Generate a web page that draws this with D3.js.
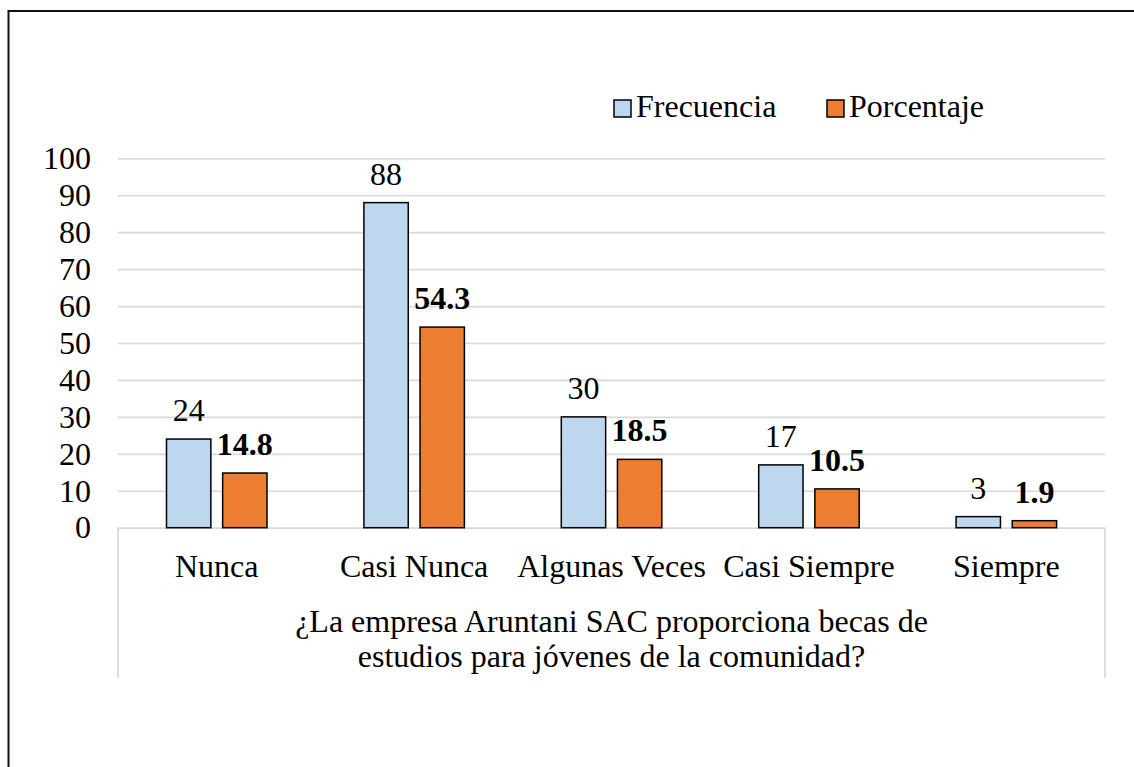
<html lang="es">
<head>
    <meta charset="UTF-8">
    <title>Becas de estudios</title>
    <script src="https://cdn.jsdelivr.net/npm/d3@7"></script>
    <style>
        body { margin: 0; background: #fff; }
        text { font-family: "Liberation Serif", "Times New Roman", serif; fill: #000; }
    </style>
</head>
<body>
<script>
    // data
    let categories = ["Nunca", "Casi Nunca", "Algunas Veces", "Casi Siempre", "Siempre"]
    let series = ["Frecuencia", "Porcentaje"]
    let frecuencia = [24, 88, 30, 17, 3]
    let porcentaje = [14.8, 54.3, 18.5, 10.5, 1.9]
    let yTicks = [0, 10, 20, 30, 40, 50, 60, 70, 80, 90, 100]
    let titleLines = ["¿La empresa Aruntani SAC proporciona becas de",
                      "estudios para jóvenes de la comunidad?"]

    let colors = {"Frecuencia": "#bdd7ee", "Porcentaje": "#ed7d31"}
    let values = {"Frecuencia": frecuencia, "Porcentaje": porcentaje}

    let W = 1134, H = 767
    let plotL = 118, plotR = 1105, plotT = 158.3, plotB = 527.7
    let fs = 32

    let svg = d3.select('body').append('svg')
        .attr('width', W)
        .attr('height', H)

    // outer frame (only left and top visible)
    svg.append('path')
        .attr('d', `M8.5,${H} L8.5,11 L${W},11`)
        .attr('fill', 'none')
        .attr('stroke', '#111')
        .attr('stroke-width', 2)

    let y = d3.scaleLinear().domain([0, 100]).range([plotB, plotT])
    let x0 = d3.scaleBand().domain(categories).range([plotL, plotR])
    let x1 = d3.scaleBand().domain(series).range([48.5, 149]).paddingInner(0.21)

    // y axis with gridlines
    let yAxis = svg.append('g')
        .attr('transform', `translate(${plotL},0)`)
        .call(d3.axisLeft(y).tickValues(yTicks).tickSize(-(plotR - plotL)).tickPadding(27))
    yAxis.select('.domain').remove()
    yAxis.selectAll('line').attr('stroke', '#d9d9d9').attr('stroke-width', 1.7)
    yAxis.selectAll('text').style('font-size', fs + 'px')
        .attr('font-family', '"Liberation Serif", serif')

    // category box
    svg.append('path')
        .attr('d', `M${plotL},${plotB} L${plotL},678 M${plotR},${plotB} L${plotR},678`)
        .attr('fill', 'none')
        .attr('stroke', '#d9d9d9')
        .attr('stroke-width', 1.7)

    // bars
    let groups = svg.selectAll('g.cat')
        .data(categories)
        .enter()
        .append('g')
        .attr('class', 'cat')
        .attr('transform', d => `translate(${x0(d)},0)`)

    groups.selectAll('rect')
        .data((d, i) => series.map(s => ({s: s, v: values[s][i]})))
        .enter()
        .append('rect')
        .attr('x', d => x1(d.s))
        .attr('y', d => y(d.v))
        .attr('width', x1.bandwidth())
        .attr('height', d => y(0) - y(d.v))
        .attr('fill', d => colors[d.s])
        .attr('stroke', '#000')
        .attr('stroke-width', 1.5)

    groups.selectAll('text.lbl')
        .data((d, i) => series.map(s => ({s: s, v: values[s][i]})))
        .enter()
        .append('text')
        .attr('class', 'lbl')
        .attr('x', d => x1(d.s) + x1.bandwidth() / 2)
        .attr('y', d => y(d.v) - 18)
        .attr('text-anchor', 'middle')
        .style('font-size', fs + 'px')
        .style('font-weight', d => d.s === 'Porcentaje' ? 'bold' : 'normal')
        .text(d => d.s === 'Porcentaje' ? d.v.toFixed(1) : d.v)

    // category labels
    let xAxis = svg.append('g')
        .attr('transform', `translate(0,${plotB})`)
        .call(d3.axisBottom(x0).tickSize(0).tickPadding(27))
    xAxis.select('.domain').remove()
    xAxis.selectAll('text').style('font-size', fs + 'px')
        .attr('font-family', '"Liberation Serif", serif')

    // axis title
    svg.selectAll('text.title')
        .data(titleLines)
        .enter()
        .append('text')
        .attr('class', 'title')
        .attr('x', (plotL + plotR) / 2)
        .attr('y', (d, i) => 632 + i * 35)
        .attr('text-anchor', 'middle')
        .style('font-size', fs + 'px')
        .text(d => d)

    // legend
    let legX = [614, 827]
    let leg = svg.selectAll('g.leg')
        .data(series)
        .enter()
        .append('g')
        .attr('class', 'leg')
        .attr('transform', (d, i) => `translate(${legX[i]},100)`)
    leg.append('rect')
        .attr('width', 17)
        .attr('height', 17)
        .attr('fill', d => colors[d])
        .attr('stroke', '#000')
        .attr('stroke-width', 1.5)
    leg.append('text')
        .attr('x', 22)
        .attr('y', 17)
        .style('font-size', fs + 'px')
        .text(d => d)
</script>
</body>
</html>
